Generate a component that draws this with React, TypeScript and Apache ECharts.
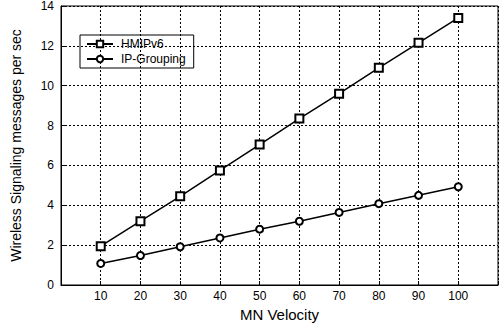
import React, { useEffect, useRef } from "react";
import * as echarts from "echarts";

const velocities = [10, 20, 30, 40, 50, 60, 70, 80, 90, 100];
const hmipv6 = [1.95, 3.2, 4.45, 5.75, 7.05, 8.35, 9.6, 10.9, 12.15, 13.4];
const ipGrouping = [1.08, 1.48, 1.92, 2.36, 2.8, 3.2, 3.64, 4.08, 4.5, 4.93];
const seriesNames = ["HMIPv6", "IP-Grouping"];

const FONT = "'Liberation Sans', Arial, Helvetica, sans-serif";

export default function App() {
  const ref = useRef<HTMLDivElement>(null);
  useEffect(() => {
    if (!ref.current) return;
    const chart = echarts.init(ref.current, undefined, { renderer: "svg" });
    const dashed = { color: "#000", type: [2, 2] as any, width: 1 };
    chart.setOption({
      animation: false,
      backgroundColor: "#fff",
      textStyle: { fontFamily: FONT },
      grid: {
        left: 61,
        right: 3,
        top: 6,
        bottom: 37,
        show: true,
        borderColor: "#000",
        borderWidth: 1,
      },
      legend: {
        left: 80,
        top: 35,
        orient: "vertical",
        borderColor: "#000",
        borderWidth: 1,
        padding: [3, 8, 3, 6],
        itemGap: 3,
        itemWidth: 26,
        itemHeight: 8,
        textStyle: { fontFamily: FONT, fontSize: 12, color: "#000", padding: [0, 0, 0, 3] },
        data: seriesNames,
      },
      xAxis: {
        type: "value",
        min: 0,
        max: 110,
        interval: 10,
        name: "MN Velocity",
        nameLocation: "middle",
        nameGap: 22,
        nameTextStyle: { fontFamily: FONT, fontSize: 15, color: "#000" },
        axisLine: { show: true, lineStyle: { color: "#000" } },
        axisTick: { show: true, inside: true, length: 4, lineStyle: { color: "#000" } },
        axisLabel: {
          margin: 5,
          fontFamily: FONT,
          fontSize: 12,
          color: "#000",
          formatter: (v: number) => (velocities.includes(v) ? String(v) : ""),
        },
        splitLine: { show: true, lineStyle: dashed },
      },
      yAxis: {
        type: "value",
        min: 0,
        max: 14,
        interval: 2,
        name: "Wireless Signaling messages per sec",
        nameLocation: "middle",
        nameGap: 38,
        nameTextStyle: { fontFamily: FONT, fontSize: 14, color: "#000" },
        axisLine: { show: true, lineStyle: { color: "#000" } },
        axisTick: { show: true, inside: true, length: 4, lineStyle: { color: "#000" } },
        axisLabel: { margin: 7, fontFamily: FONT, fontSize: 12, color: "#000" },
        splitLine: { show: true, lineStyle: dashed },
      },
      series: [
        {
          name: seriesNames[0],
          type: "line",
          data: velocities.map((v, i) => [v, hmipv6[i]]),
          symbol: "emptyRect",
          symbolSize: 8,
          lineStyle: { color: "#000", width: 1.5 },
          itemStyle: { color: "#000", borderColor: "#000", borderWidth: 1.5 },
        },
        {
          name: seriesNames[1],
          type: "line",
          data: velocities.map((v, i) => [v, ipGrouping[i]]),
          symbol: "emptyCircle",
          symbolSize: 7,
          lineStyle: { color: "#000", width: 1.5 },
          itemStyle: { color: "#000", borderColor: "#000", borderWidth: 1.5 },
        },
      ],
    });
    return () => chart.dispose();
  }, []);
  return (
    <div
      ref={ref}
      style={{ position: "fixed", left: 0, top: 0, width: 501, height: 327, background: "#fff" }}
    />
  );
}
